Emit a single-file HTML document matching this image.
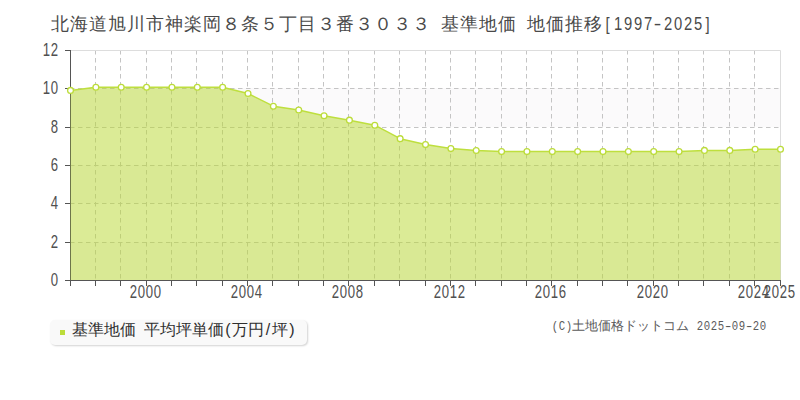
<!DOCTYPE html>
<html lang="ja"><head><meta charset="utf-8">
<style>
html,body{margin:0;padding:0;background:#fff;width:800px;height:400px;overflow:hidden;position:relative}
body{font-family:"Liberation Sans",sans-serif}
.ax{font-family:"Liberation Sans",sans-serif;font-size:17.8px;fill:#505050}
.title{position:absolute;left:51px;top:12px;font-size:18px;color:#4a4a4a;white-space:nowrap;letter-spacing:1px}
.legend{position:absolute;left:50px;top:320px;width:257px;height:25px;background:#f9f9f9;border-radius:5px;box-shadow:1px 1px 2px rgba(0,0,0,0.18)}
.legend .sq{position:absolute;left:10px;top:10px;width:5px;height:5px;background:#bcdc3a}
.legend .lt{position:absolute;left:22px;top:0px;font-size:16px;color:#2e2e2e;white-space:nowrap}
.th{display:inline-block;width:10px;text-align:center;transform:scaleX(0.82)}
.lh{display:inline-block;width:8px;text-align:center}
.ch{display:inline-block;width:7px;text-align:center;font-family:"Liberation Mono",monospace;transform:scaleX(0.82)}
.credit{position:absolute;left:551px;top:317px;font-size:13px;color:#5a5a5a;white-space:nowrap;font-family:"Liberation Mono",monospace}
</style></head><body>
<svg width="800" height="400" viewBox="0 0 800 400" style="position:absolute;left:0;top:0">
<rect x="70" y="88" width="710" height="39" fill="#fbfafb"/>
<rect x="70" y="165" width="710" height="38" fill="#fbfafb"/>
<rect x="70" y="242" width="710" height="38" fill="#fbfafb"/>
<path d="M95.5 50V280M120.5 50V280M146.5 50V280M171.5 50V280M196.5 50V280M222.5 50V280M247.5 50V280M272.5 50V280M298.5 50V280M323.5 50V280M348.5 50V280M374.5 50V280M399.5 50V280M425.5 50V280M450.5 50V280M475.5 50V280M501.5 50V280M526.5 50V280M551.5 50V280M577.5 50V280M602.5 50V280M627.5 50V280M653.5 50V280M678.5 50V280M703.5 50V280M729.5 50V280M754.5 50V280" stroke="#c4c4c4" stroke-width="1" stroke-dasharray="4.5,3.5" fill="none"/>
<path d="M70 88.5H780M70 127.5H780M70 165.5H780M70 203.5H780M70 242.5H780" stroke="#c4c4c4" stroke-width="1" stroke-dasharray="4.5,3.5" fill="none"/>
<path d="M70 50.5H780.5V280" stroke="#dddddd" stroke-width="1" fill="none"/>
<path d="M70.5 50V280.5M65 280.5H781" stroke="#555555" stroke-width="1" fill="none"/>
<path d="M65 50.5H70M65 88.5H70M65 127.5H70M65 165.5H70M65 203.5H70M65 242.5H70M65 280.5H70" stroke="#555555" stroke-width="1" fill="none"/>
<path d="M70.5 280V286M95.5 280V286M120.5 280V286M146.5 280V286M171.5 280V286M196.5 280V286M222.5 280V286M247.5 280V286M272.5 280V286M298.5 280V286M323.5 280V286M348.5 280V286M374.5 280V286M399.5 280V286M425.5 280V286M450.5 280V286M475.5 280V286M501.5 280V286M526.5 280V286M551.5 280V286M577.5 280V286M602.5 280V286M627.5 280V286M653.5 280V286M678.5 280V286M703.5 280V286M729.5 280V286M754.5 280V286M780.5 280V286" stroke="#555555" stroke-width="1" fill="none"/>
<path d="M70.5 280L70.50 90.42L95.86 87.24L121.21 87.24L146.57 87.24L171.93 87.24L197.29 87.24L222.64 87.24L248.00 93.50L273.36 106.20L298.71 110.00L324.07 115.70L349.43 120.15L374.79 125.20L400.14 138.65L425.50 144.60L450.86 148.60L476.21 150.45L501.57 151.60L526.93 151.60L552.29 151.60L577.64 151.60L603.00 151.60L628.36 151.60L653.71 151.60L679.07 151.60L704.43 150.40L729.79 150.40L755.14 149.30L780.50 149.30L780.5 280Z" fill="#b8d82e" fill-opacity="0.5"/>
<path d="M70.50 90.42L95.86 87.24L121.21 87.24L146.57 87.24L171.93 87.24L197.29 87.24L222.64 87.24L248.00 93.50L273.36 106.20L298.71 110.00L324.07 115.70L349.43 120.15L374.79 125.20L400.14 138.65L425.50 144.60L450.86 148.60L476.21 150.45L501.57 151.60L526.93 151.60L552.29 151.60L577.64 151.60L603.00 151.60L628.36 151.60L653.71 151.60L679.07 151.60L704.43 150.40L729.79 150.40L755.14 149.30L780.50 149.30" stroke="#bedf3e" stroke-width="1.5" fill="none" stroke-linejoin="round"/>
<circle cx="70.50" cy="90.42" r="2.9" fill="#ffffff" stroke="#bcdc3a" stroke-width="1.3"/>
<circle cx="95.86" cy="87.24" r="2.9" fill="#ffffff" stroke="#bcdc3a" stroke-width="1.3"/>
<circle cx="121.21" cy="87.24" r="2.9" fill="#ffffff" stroke="#bcdc3a" stroke-width="1.3"/>
<circle cx="146.57" cy="87.24" r="2.9" fill="#ffffff" stroke="#bcdc3a" stroke-width="1.3"/>
<circle cx="171.93" cy="87.24" r="2.9" fill="#ffffff" stroke="#bcdc3a" stroke-width="1.3"/>
<circle cx="197.29" cy="87.24" r="2.9" fill="#ffffff" stroke="#bcdc3a" stroke-width="1.3"/>
<circle cx="222.64" cy="87.24" r="2.9" fill="#ffffff" stroke="#bcdc3a" stroke-width="1.3"/>
<circle cx="248.00" cy="93.50" r="2.9" fill="#ffffff" stroke="#bcdc3a" stroke-width="1.3"/>
<circle cx="273.36" cy="106.20" r="2.9" fill="#ffffff" stroke="#bcdc3a" stroke-width="1.3"/>
<circle cx="298.71" cy="110.00" r="2.9" fill="#ffffff" stroke="#bcdc3a" stroke-width="1.3"/>
<circle cx="324.07" cy="115.70" r="2.9" fill="#ffffff" stroke="#bcdc3a" stroke-width="1.3"/>
<circle cx="349.43" cy="120.15" r="2.9" fill="#ffffff" stroke="#bcdc3a" stroke-width="1.3"/>
<circle cx="374.79" cy="125.20" r="2.9" fill="#ffffff" stroke="#bcdc3a" stroke-width="1.3"/>
<circle cx="400.14" cy="138.65" r="2.9" fill="#ffffff" stroke="#bcdc3a" stroke-width="1.3"/>
<circle cx="425.50" cy="144.60" r="2.9" fill="#ffffff" stroke="#bcdc3a" stroke-width="1.3"/>
<circle cx="450.86" cy="148.60" r="2.9" fill="#ffffff" stroke="#bcdc3a" stroke-width="1.3"/>
<circle cx="476.21" cy="150.45" r="2.9" fill="#ffffff" stroke="#bcdc3a" stroke-width="1.3"/>
<circle cx="501.57" cy="151.60" r="2.9" fill="#ffffff" stroke="#bcdc3a" stroke-width="1.3"/>
<circle cx="526.93" cy="151.60" r="2.9" fill="#ffffff" stroke="#bcdc3a" stroke-width="1.3"/>
<circle cx="552.29" cy="151.60" r="2.9" fill="#ffffff" stroke="#bcdc3a" stroke-width="1.3"/>
<circle cx="577.64" cy="151.60" r="2.9" fill="#ffffff" stroke="#bcdc3a" stroke-width="1.3"/>
<circle cx="603.00" cy="151.60" r="2.9" fill="#ffffff" stroke="#bcdc3a" stroke-width="1.3"/>
<circle cx="628.36" cy="151.60" r="2.9" fill="#ffffff" stroke="#bcdc3a" stroke-width="1.3"/>
<circle cx="653.71" cy="151.60" r="2.9" fill="#ffffff" stroke="#bcdc3a" stroke-width="1.3"/>
<circle cx="679.07" cy="151.60" r="2.9" fill="#ffffff" stroke="#bcdc3a" stroke-width="1.3"/>
<circle cx="704.43" cy="150.40" r="2.9" fill="#ffffff" stroke="#bcdc3a" stroke-width="1.3"/>
<circle cx="729.79" cy="150.40" r="2.9" fill="#ffffff" stroke="#bcdc3a" stroke-width="1.3"/>
<circle cx="755.14" cy="149.30" r="2.9" fill="#ffffff" stroke="#bcdc3a" stroke-width="1.3"/>
<circle cx="780.50" cy="149.30" r="2.9" fill="#ffffff" stroke="#bcdc3a" stroke-width="1.3"/>
<text transform="translate(46.5 55.6) scale(0.74 1)" text-anchor="middle" class="ax">1</text>
<text transform="translate(54.5 55.6) scale(0.74 1)" text-anchor="middle" class="ax">2</text>
<text transform="translate(46.5 93.6) scale(0.74 1)" text-anchor="middle" class="ax">1</text>
<text transform="translate(54.5 93.6) scale(0.74 1)" text-anchor="middle" class="ax">0</text>
<text transform="translate(54.5 132.6) scale(0.74 1)" text-anchor="middle" class="ax">8</text>
<text transform="translate(54.5 170.6) scale(0.74 1)" text-anchor="middle" class="ax">6</text>
<text transform="translate(54.5 208.6) scale(0.74 1)" text-anchor="middle" class="ax">4</text>
<text transform="translate(54.5 247.6) scale(0.74 1)" text-anchor="middle" class="ax">2</text>
<text transform="translate(54.5 285.6) scale(0.74 1)" text-anchor="middle" class="ax">0</text>
<text transform="translate(133.5 298) scale(0.74 1)" text-anchor="middle" class="ax">2</text>
<text transform="translate(141.5 298) scale(0.74 1)" text-anchor="middle" class="ax">0</text>
<text transform="translate(149.5 298) scale(0.74 1)" text-anchor="middle" class="ax">0</text>
<text transform="translate(157.5 298) scale(0.74 1)" text-anchor="middle" class="ax">0</text>
<text transform="translate(234.5 298) scale(0.74 1)" text-anchor="middle" class="ax">2</text>
<text transform="translate(242.5 298) scale(0.74 1)" text-anchor="middle" class="ax">0</text>
<text transform="translate(250.5 298) scale(0.74 1)" text-anchor="middle" class="ax">0</text>
<text transform="translate(258.5 298) scale(0.74 1)" text-anchor="middle" class="ax">4</text>
<text transform="translate(335.5 298) scale(0.74 1)" text-anchor="middle" class="ax">2</text>
<text transform="translate(343.5 298) scale(0.74 1)" text-anchor="middle" class="ax">0</text>
<text transform="translate(351.5 298) scale(0.74 1)" text-anchor="middle" class="ax">0</text>
<text transform="translate(359.5 298) scale(0.74 1)" text-anchor="middle" class="ax">8</text>
<text transform="translate(437.5 298) scale(0.74 1)" text-anchor="middle" class="ax">2</text>
<text transform="translate(445.5 298) scale(0.74 1)" text-anchor="middle" class="ax">0</text>
<text transform="translate(453.5 298) scale(0.74 1)" text-anchor="middle" class="ax">1</text>
<text transform="translate(461.5 298) scale(0.74 1)" text-anchor="middle" class="ax">2</text>
<text transform="translate(538.5 298) scale(0.74 1)" text-anchor="middle" class="ax">2</text>
<text transform="translate(546.5 298) scale(0.74 1)" text-anchor="middle" class="ax">0</text>
<text transform="translate(554.5 298) scale(0.74 1)" text-anchor="middle" class="ax">1</text>
<text transform="translate(562.5 298) scale(0.74 1)" text-anchor="middle" class="ax">6</text>
<text transform="translate(640.5 298) scale(0.74 1)" text-anchor="middle" class="ax">2</text>
<text transform="translate(648.5 298) scale(0.74 1)" text-anchor="middle" class="ax">0</text>
<text transform="translate(656.5 298) scale(0.74 1)" text-anchor="middle" class="ax">2</text>
<text transform="translate(664.5 298) scale(0.74 1)" text-anchor="middle" class="ax">0</text>
<text transform="translate(741.5 298) scale(0.74 1)" text-anchor="middle" class="ax">2</text>
<text transform="translate(749.5 298) scale(0.74 1)" text-anchor="middle" class="ax">0</text>
<text transform="translate(757.5 298) scale(0.74 1)" text-anchor="middle" class="ax">2</text>
<text transform="translate(765.5 298) scale(0.74 1)" text-anchor="middle" class="ax">4</text>
<text transform="translate(767.5 298) scale(0.74 1)" text-anchor="middle" class="ax">2</text>
<text transform="translate(775.5 298) scale(0.74 1)" text-anchor="middle" class="ax">0</text>
<text transform="translate(783.5 298) scale(0.74 1)" text-anchor="middle" class="ax">2</text>
<text transform="translate(791.5 298) scale(0.74 1)" text-anchor="middle" class="ax">5</text>
</svg>
<div class="title">北海道旭川市神楽岡８条５丁目３番３０３３<span class="th">&nbsp;</span>基準地価<span class="th">&nbsp;</span>地価推移<span class="th">[</span><span class="th">1</span><span class="th">9</span><span class="th">9</span><span class="th">7</span><span class="th" style="transform:scaleX(1.25)">-</span><span class="th">2</span><span class="th">0</span><span class="th">2</span><span class="th">5</span><span class="th">]</span></div>
<div class="legend"><div class="sq"></div><div class="lt">基準地価<span class="lh">&nbsp;</span>平均坪単価<span class="lh">(</span>万円<span class="lh">/</span>坪<span class="lh">)</span></div></div>
<div class="credit"><span class="ch">(</span><span class="ch">C</span><span class="ch">)</span>土地価格ドットコム<span class="ch">&nbsp;</span><span class="ch">2</span><span class="ch">0</span><span class="ch">2</span><span class="ch">5</span><span class="ch" style="transform:scaleX(1.25)">-</span><span class="ch">0</span><span class="ch">9</span><span class="ch" style="transform:scaleX(1.25)">-</span><span class="ch">2</span><span class="ch">0</span></div>
</body></html>
